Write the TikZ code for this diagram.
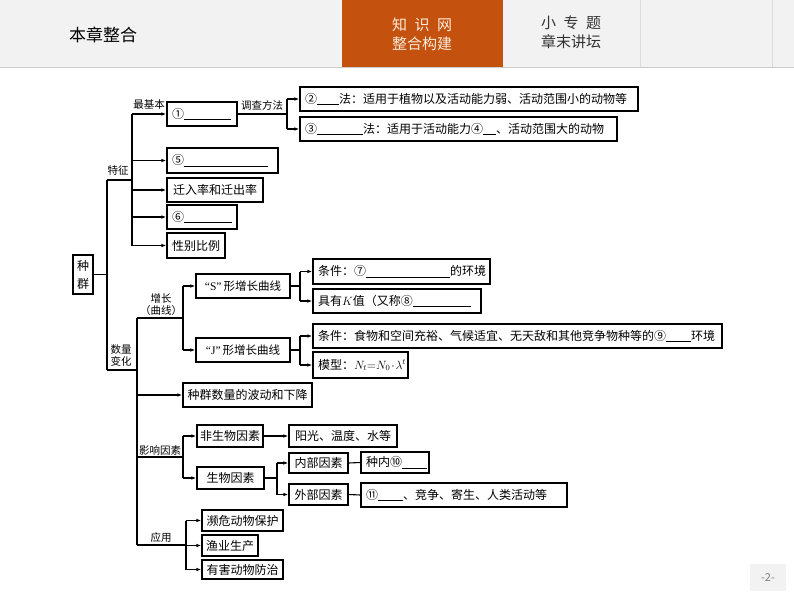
\documentclass[tikz,border=0pt]{standalone}
\usepackage{fontspec}
\setmainfont{Noto Sans CJK SC}
\newfontfamily\latq{Liberation Serif}
\usetikzlibrary{arrows.meta}
\definecolor{hdrgray}{RGB}{242,242,242}
\definecolor{hdrline}{RGB}{205,205,205}
\definecolor{hdrorange}{RGB}{196,81,14}
\definecolor{cream}{RGB}{252,236,220}
\definecolor{divline}{RGB}{220,220,220}
\definecolor{hdrtext}{RGB}{50,50,50}
\newcommand\blk[1]{\rule[-2pt]{#1pt}{0.8pt}}
\newcommand\mybox[7][left]{%
  \pgfmathsetmacro\mbt{#5-#3-4}\pgfmathsetmacro\mbh{#6-#4}%
  \node[bx, align=#1, text width=\mbt pt, minimum height=\mbh pt] (#2) at ({(#3+#5)/2},{(#4+#6)/2}) {#7};}
\newcommand\lp{\hspace*{3pt}}
\begin{document}
\begin{tikzpicture}[x=1pt,y=-1pt,
  bx/.style={draw, line width=1.3pt, inner xsep=2pt, inner ysep=0pt, font=\fontsize{12}{14}\selectfont},
  ln/.style={line width=1.1pt},
  arr/.style={line width=1.1pt, -{Latex[length=5pt,width=3.6pt]}},
  lab/.style={font=\fontsize{10.5}{12}\selectfont, inner sep=0pt, align=center},
  hd/.style={font=\fontsize{15}{18}\selectfont, inner sep=0pt},
]
\useasboundingbox (0,0) rectangle (794,596);
\fill[white] (0,0) rectangle (794,596);
% header
\fill[hdrgray] (0,0) rectangle (794,67);
\draw[hdrline, line width=0.8pt] (0,67) -- (794,67);
\fill[hdrorange] (342,0) rectangle (503,67);
\draw[divline, line width=0.8pt] (640,0) -- (640,67);
\draw[divline, line width=0.8pt] (772,0) -- (772,67);
\node[font=\fontsize{17}{20}\selectfont, text=black] (title) at (103,35) {本章整合};
\node[hd, text=cream] (tabA1) at (422,25) {\makebox[4em][s]{知\hfill 识\hfill 网}};
\node[hd, text=cream] (tabA2) at (422,44) {整合构建};
\node[hd, text=hdrtext] (tabB1) at (571,23) {\makebox[4em][s]{小\hfill 专\hfill 题}};
\node[hd, text=hdrtext] (tabB2) at (571,42) {章末讲坛};
\node[fill=hdrgray, minimum width=36pt, minimum height=27pt, text=gray, font=\fontsize{11}{12}\selectfont] (pg) at (768,577) {-2-};

% root
\node[bx, minimum width=20pt, minimum height=39pt, align=center, font=\fontsize{12}{18}\selectfont] (zq) at (83,274.5) {种\\群};

% features
\mybox{b1}{167}{102}{237}{126}{\lp①\blk{47}}
\mybox{b2}{300}{87}{638}{111}{\lp②\blk{22}法：适用于植物以及活动能力弱、活动范围小的动物等}
\mybox{b3}{300}{117}{617}{141}{\lp③\blk{46}法：适用于活动能力④\blk{13}、活动范围大的动物}
\mybox{b5}{167}{148}{278}{173}{\lp⑤\blk{84}}
\mybox[center]{bq}{167}{178}{263}{202}{迁入率和迁出率}
\mybox{b6}{167}{205}{237}{229}{\lp⑥\blk{48}}
\mybox[center]{bx}{167}{233}{225}{258}{性别比例}

% growth
\mybox[center]{bS}{196}{274}{290}{298}{\fontsize{11.5}{13}\selectfont{\latq “S”}\,形增长曲线}
\mybox[center]{bJ}{196}{338}{290}{362}{\fontsize{11.5}{13}\selectfont{\latq “J”}\,形增长曲线}
\mybox{b7}{313}{259}{490}{284}{\lp 条件：⑦\blk{84}的环境}
\mybox{b8}{313}{289}{481}{313}{\lp 具有$K$值（又称⑧\blk{58}}
\mybox{b9}{313}{324}{722}{348}{\lp 条件：食物和空间充裕、气候适宜、无天敌和其他竞争物种等的⑨\blk{25}环境}
\mybox{bm}{313}{352}{408}{378}{\lp 模型：$N_t{=}N_0\cdot\lambda^t$}
\mybox[center]{bw}{183}{383}{312}{407}{种群数量的波动和下降}

% factors
\mybox[center]{bf}{197}{425}{263}{447}{非生物因素}
\mybox[center]{bs}{197}{467}{264}{489}{生物因素}
\mybox[center]{bsun}{289}{425}{397}{447}{阳光、温度、水等}
\mybox[center]{bin}{289}{453}{348}{473}{内部因素}
\mybox[center]{bout}{289}{484}{348}{505}{外部因素}
\mybox{b10}{361}{452}{429}{473}{\lp 种内⑩\blk{25}}
\mybox{b11}{361}{483}{567}{507}{\lp⑪\blk{25}、竞争、寄生、人类活动等}

% applications
\mybox[center]{ba1}{202}{510}{283}{531}{濒危动物保护}
\mybox[center]{ba2}{202}{535}{258}{556}{渔业生产}
\mybox[center]{ba3}{202}{560}{283}{579}{有害动物防治}

% labels
\node[lab] (l1) at (149,105) {最基本};
\node[lab] (l2) at (262,105) {调查方法};
\node[lab] (l3) at (118,171) {特征};
\node[lab] (l4) at (161,305) {增长\\（曲线）};
\node[lab] (l5) at (121,356) {数量\\变化};
\node[lab] (l6) at (160,450) {影响因素};
\node[lab] (l7) at (161,537) {应用};

% junction coordinates
\coordinate (tA) at (107,0);
\coordinate (t1) at (132,0);
\coordinate (t2) at (287,0);
\coordinate (t3) at (137,0);
\coordinate (t4) at (183,0);
\coordinate (t5) at (300,0);
\coordinate (t6) at (277,0);
\coordinate (t7) at (186,0);
\coordinate (jT) at (107,180);
\coordinate (jTe) at (132,180);
\coordinate (jQ) at (107,370);
\coordinate (jQe) at (137,370);
\coordinate (jG) at (137,318);
\coordinate (jGe) at (183,318);
\coordinate (jY) at (137,457);
\coordinate (jYe) at (183,457);
\coordinate (jU) at (137,545);
\coordinate (jUe) at (186,545);

% connectors
\draw[ln] (zq.east) -- (tA |- zq.east);
\draw[ln] (jT) -- (jQ);
\draw[ln] (jT) -- (jTe);
\draw[ln] (t1 |- b1.west) -- (t1 |- bx.west);
\foreach \n in {b1,b5,bq,b6,bx} \draw[arr] (t1 |- \n.west) -- (\n.west);
\draw[ln] (b1.east) -- (t2 |- b1.east);
\draw[ln] (t2 |- b2.west) -- (t2 |- b3.west);
\foreach \n in {b2,b3} \draw[arr] (t2 |- \n.west) -- (\n.west);

\draw[ln] (jQ) -- (jQe);
\draw[ln] (jG) -- (jU);
\draw[ln] (jG) -- (jGe);
\draw[ln] (t4 |- bS.west) -- (t4 |- bJ.west);
\foreach \n in {bS,bJ} \draw[arr] (t4 |- \n.west) -- (\n.west);
\draw[ln] (bS.east) -- (t5 |- bS.east);
\draw[ln] (t5 |- b7.west) -- (t5 |- b8.west);
\foreach \n in {b7,b8} \draw[arr] (t5 |- \n.west) -- (\n.west);
\draw[ln] (bJ.east) -- (t5 |- bJ.east);
\draw[ln] (t5 |- b9.west) -- (t5 |- bm.west);
\foreach \n in {b9,bm} \draw[arr] (t5 |- \n.west) -- (\n.west);
\draw[arr] (t3 |- bw.west) -- (bw.west);

\draw[ln] (jY) -- (jYe);
\draw[ln] (t4 |- bf.west) -- (t4 |- bs.west);
\foreach \n in {bf,bs} \draw[arr] (t4 |- \n.west) -- (\n.west);
\draw[arr] (bf.east) -- (bsun.west);
\draw[ln] (bs.east) -- (t6 |- bs.east);
\draw[ln] (t6 |- bin.west) -- (t6 |- bout.west);
\foreach \n in {bin,bout} \draw[arr] (t6 |- \n.west) -- (\n.west);
\draw[ln] (bin.east) -- (b10.west);
\draw[ln] (bout.east) -- (b11.west);

\draw[ln] (jU) -- (jUe);
\draw[ln] (t7 |- ba1.west) -- (t7 |- ba3.west);
\foreach \n in {ba1,ba2,ba3} \draw[arr] (t7 |- \n.west) -- (\n.west);
\end{tikzpicture}
\end{document}
